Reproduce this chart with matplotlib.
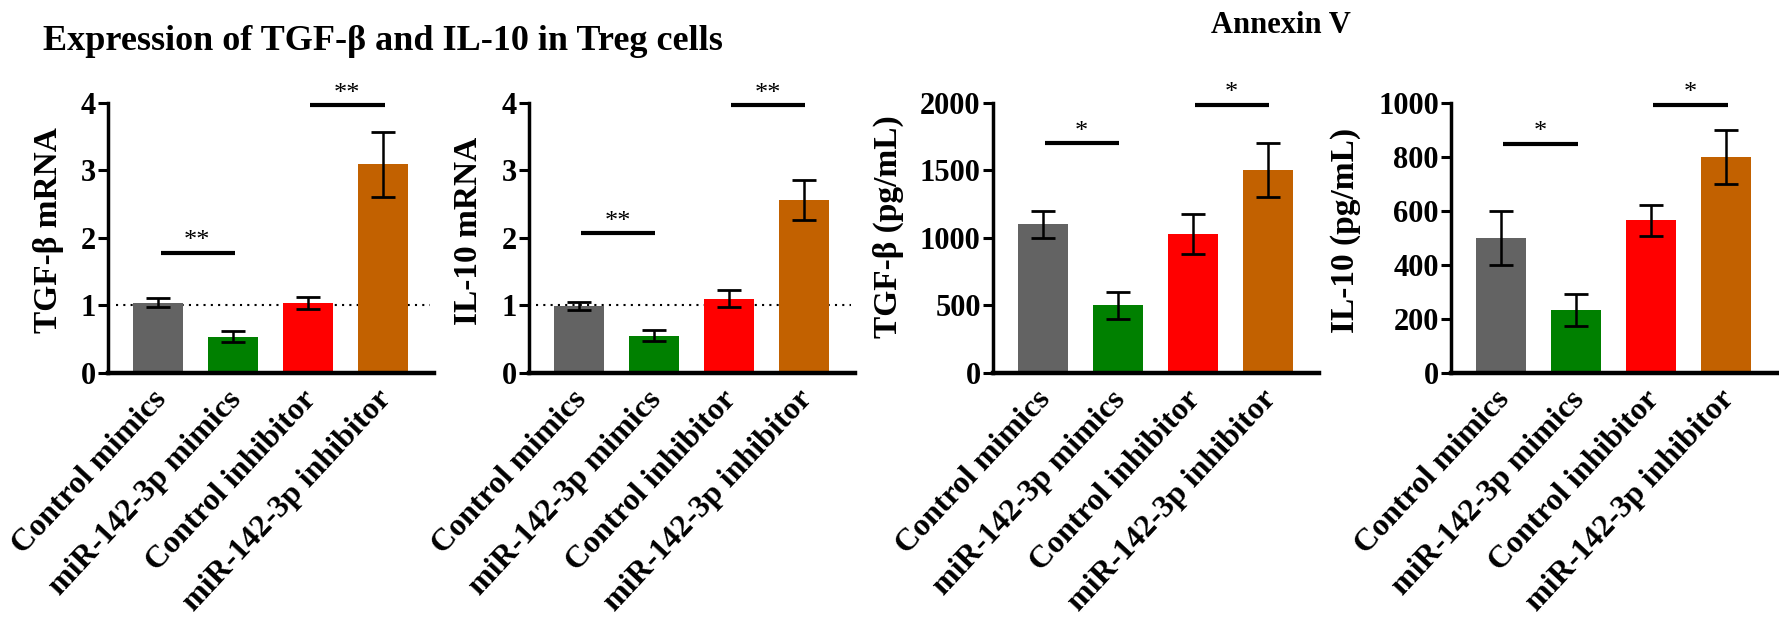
import numpy as np
import matplotlib.pyplot as plt
from matplotlib.transforms import ScaledTranslation

plt.rcParams['font.family'] = ['Liberation Serif', 'DejaVu Serif']
plt.rcParams['font.weight'] = 'bold'
plt.rcParams['axes.labelweight'] = 'bold'

groups = ["Control mimics", "miR-142-3p mimics", "Control inhibitor", "miR-142-3p inhibitor"]
colors = ["#636363", "#008000", "#ff0000", "#c26100"]

tgf_mrna = [1.04, 0.54, 1.03, 3.09]
tgf_mrna_err = [0.07, 0.08, 0.09, 0.48]
il10_mrna = [0.99, 0.55, 1.10, 2.56]
il10_mrna_err = [0.06, 0.08, 0.13, 0.30]
tgf_elisa = [1100, 500, 1030, 1500]
tgf_elisa_err = [100, 100, 150, 200]
il10_elisa = [500, 233, 565, 800]
il10_elisa_err = [100, 58, 58, 100]

ylabels = ["TGF-β mRNA", "IL-10 mRNA", "TGF-β (pg/mL)", "IL-10 (pg/mL)"]
ymax = [4, 4, 2000, 1000]
ystep = [1, 1, 500, 200]
ref_level = [1, 1, None, None]   # dotted line at fold change 1

# significance brackets: (group a, group b, height, stars)
sig_tgf_mrna = [(0, 1, 1.78, "**"), (2, 3, 3.96, "**")]
sig_il10_mrna = [(0, 1, 2.07, "**"), (2, 3, 3.96, "**")]
sig_tgf_elisa = [(0, 1, 1700, "*"), (2, 3, 1986, "*")]
sig_il10_elisa = [(0, 1, 848, "*"), (2, 3, 992, "*")]

values = [tgf_mrna, il10_mrna, tgf_elisa, il10_elisa]
errors = [tgf_mrna_err, il10_mrna_err, tgf_elisa_err, il10_elisa_err]
sigs = [sig_tgf_mrna, sig_il10_mrna, sig_tgf_elisa, sig_il10_elisa]

W, H = 1779, 621
fig = plt.figure(figsize=(W / 100, H / 100), dpi=100)

# layout in pixels
ax_left = [108, 528.5, 992.5, 1450.8]
ax_w = 326.25
ax_top, ax_bot = 102.7, 373
lab_coords = [(-0.135, 0.529), (-0.136, 0.525), (-0.271, 0.540), (-0.275, 0.529)]

x = np.arange(len(groups))
for k in range(4):
    ax = fig.add_axes([ax_left[k] / W, 1 - ax_bot / H, ax_w / W, (ax_bot - ax_top) / H])
    ax.bar(x, values[k], width=0.667, color=colors, zorder=2)
    ax.errorbar(x, values[k], yerr=errors[k], fmt='none', ecolor='black',
                elinewidth=1.8, capsize=8.5, capthick=2, zorder=3)
    if ref_level[k] is not None:
        ax.hlines(ref_level[k], -0.57, 3.63, colors='black', linestyles=(0, (1, 2.5)),
                  linewidth=1.5, zorder=1)
    for a, b, h, s in sigs[k]:
        ax.plot([a + 0.03, b + 0.02], [h, h], color='black', lw=3, solid_capstyle='butt',
                clip_on=False)
        ax.annotate(s, xy=((a + b) / 2 + 0.02, h), xytext=(0, 4), textcoords='offset points',
                    ha='center', va='baseline', fontsize=19, fontweight='normal',
                    annotation_clip=False)

    ax.set_xlim(-0.67, 3.68)
    ax.set_ylim(0, ymax[k])
    ax.set_yticks(np.arange(0, ymax[k] + ystep[k] / 2, ystep[k]))
    ax.tick_params(axis='y', labelsize=22, width=2.2, length=7, pad=1.5)
    ax.tick_params(axis='x', length=0, pad=0)
    ax.set_xticks(x)
    ax.set_xticklabels(groups, rotation=47, ha='right', va='baseline',
                       rotation_mode='anchor', fontsize=23)
    off = ScaledTranslation(0.09, -0.27, fig.dpi_scale_trans)
    for lab in ax.get_xticklabels():
        lab.set_transform(lab.get_transform() + off)
    for side in ['top', 'right']:
        ax.spines[side].set_visible(False)
    ax.spines['left'].set_linewidth(2.5)
    ax.spines['bottom'].set_linewidth(3.2)
    ax.spines['left'].set_capstyle('projecting')
    ax.set_ylabel(ylabels[k], fontsize=24, fontweight='bold')
    ax.yaxis.set_label_coords(*lab_coords[k])

fig.text(43 / W, 1 - 50 / H, "Expression of TGF-β and IL-10 in Treg cells",
         fontsize=26, ha='left', va='baseline')
fig.text(1281 / W, 1 - 33 / H, "Annexin V", fontsize=22, ha='center', va='baseline')

fig.savefig("out.png", dpi=100)
